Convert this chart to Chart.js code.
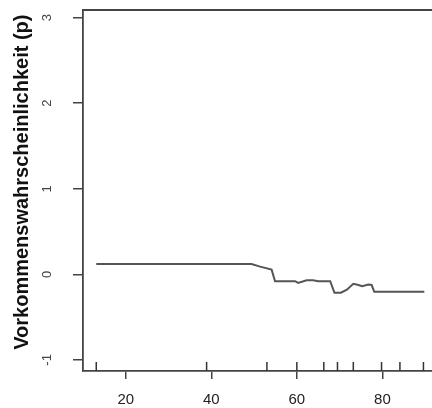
<!DOCTYPE html>
<html lang="de">
<head>
  <meta charset="UTF-8">
  <title>Vorkommenswahrscheinlichkeit</title>
  <script src="https://cdn.jsdelivr.net/npm/chart.js"></script>
  <style>
    body {
      margin: 0;
      background: #fff;
    }
    #plot {
      display: block;
    }
  </style>
</head>
<body>
  <canvas id="plot" width="432" height="408"></canvas>

  <script>
    // Verlauf der Kurve (x, p)
    const xWerte = [13.1, 49.4, 51.4, 54.1, 54.9, 59.6, 60.3, 62.3, 63.8, 65.0, 67.8, 68.8, 70.3, 71.7, 73.2, 74.4, 75.3, 76.7, 77.5, 78.1, 89.8];
    const pWerte = [0.12, 0.12, 0.09, 0.055, -0.08, -0.08, -0.10, -0.07, -0.07, -0.08, -0.08, -0.215, -0.215, -0.18, -0.11, -0.125, -0.14, -0.12, -0.125, -0.205, -0.205];

    // Rug-Striche an der x-Achse
    const rugWerte = [13.1, 38.9, 53.0, 60.0, 66.3, 69.5, 73.2, 79.8, 84.1, 89.6];

    const xTicks = [20, 40, 60, 80];
    const yTicks = [-1, 0, 1, 2, 3];

    const achsenFarbe = '#444';

    const rahmenOben = {
      id: 'rahmenOben',
      afterDraw(chart) {
        const { ctx, chartArea } = chart;
        ctx.save();
        ctx.strokeStyle = achsenFarbe;
        ctx.lineWidth = 1.8;
        ctx.beginPath();
        ctx.moveTo(chartArea.left, chartArea.top);
        ctx.lineTo(chartArea.right, chartArea.top);
        ctx.stroke();
        ctx.restore();
      }
    };

    const rug = {
      id: 'rug',
      afterDatasetsDraw(chart) {
        const { ctx, chartArea, scales } = chart;
        ctx.save();
        ctx.strokeStyle = '#333';
        ctx.lineWidth = 1.5;
        rugWerte.forEach(v => {
          const px = scales.x.getPixelForValue(v);
          ctx.beginPath();
          ctx.moveTo(px, chartArea.bottom);
          ctx.lineTo(px, chartArea.bottom - 9);
          ctx.stroke();
        });
        ctx.restore();
      }
    };

    // keine Zusatzabstände durch die Beschriftungen
    function ohnePadding(s) {
      s.paddingTop = 0;
      s.paddingBottom = 0;
      s.paddingLeft = 0;
      s.paddingRight = 0;
    }

    const ctx = document.getElementById('plot').getContext('2d');

    new Chart(ctx, {
      type: 'scatter',
      data: {
        datasets: [{
          data: xWerte.map((x, i) => ({ x: x, y: pWerte[i] })),
          showLine: true,
          borderColor: '#555',
          borderWidth: 2,
          pointRadius: 0,
          tension: 0
        }]
      },
      options: {
        responsive: false,
        animation: false,
        devicePixelRatio: 1,
        layout: { padding: { top: 10, right: 0, left: 0, bottom: 0 } },
        plugins: {
          legend: { display: false },
          tooltip: { enabled: false }
        },
        scales: {
          x: {
            type: 'linear',
            min: 10,
            max: 91.6,
            afterFit: s => { s.height = 37; ohnePadding(s); },
            afterBuildTicks: s => { s.ticks = xTicks.map(v => ({ value: v })); },
            border: { display: true, color: achsenFarbe, width: 1.8 },
            grid: {
              drawOnChartArea: false,
              drawTicks: true,
              tickLength: 8,
              color: achsenFarbe,
              lineWidth: 1.5
            },
            ticks: {
              padding: 12,
              color: '#222',
              font: { family: 'Liberation Sans', size: 15 }
            }
          },
          y: {
            type: 'linear',
            min: -1.13,
            max: 3.09,
            afterFit: s => { s.width = 83; ohnePadding(s); },
            afterBuildTicks: s => { s.ticks = yTicks.map(v => ({ value: v })); },
            border: { display: true, color: achsenFarbe, width: 1.8 },
            grid: {
              drawOnChartArea: false,
              drawTicks: true,
              tickLength: 10,
              color: achsenFarbe,
              lineWidth: 1.5
            },
            ticks: {
              autoSkip: false,
              minRotation: 90,
              maxRotation: 90,
              crossAlign: 'center',
              padding: 20,
              color: '#444',
              font: { family: 'Liberation Sans', size: 13 }
            },
            title: {
              display: true,
              text: '   Vorkommenswahrscheinlichkeit (p)',
              color: '#111',
              padding: { top: 10, bottom: 0 },
              font: { family: 'Liberation Sans', size: 20, weight: 'bold' }
            }
          }
        }
      },
      plugins: [rahmenOben, rug]
    });
  </script>
</body>
</html>
